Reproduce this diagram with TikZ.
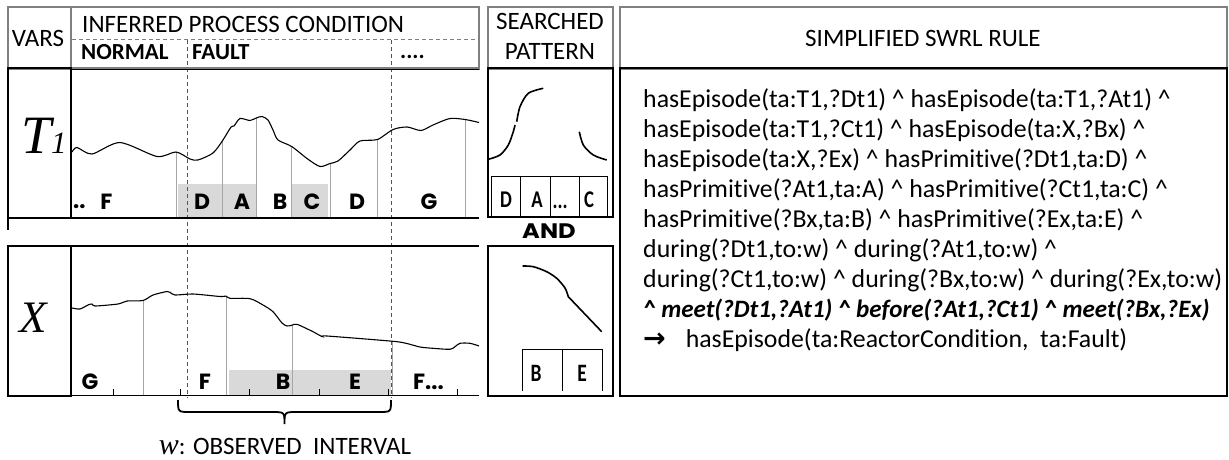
\documentclass[tikz,border=0pt]{standalone}
\usepackage{fontspec}
\usepackage{graphicx}
\setmainfont{Carlito}[Ligatures=NoCommon]
\newfontfamily\geo{Poppins}
\newfontfamily\tnr{Liberation Serif}
\newfontfamily\symf{DejaVu Sans}
\definecolor{hdrgray}{HTML}{808080}
\definecolor{shadegray}{HTML}{D9D9D9}
\definecolor{seggray}{HTML}{A6A6A6}
\definecolor{dashgray}{HTML}{555555}
\newcommand{\pxsize}[1]{\fontsize{#1}{#1}\selectfont}
\newcommand{\caret}{\textasciicircum}
\newcommand{\narrow}[1]{\scalebox{0.78}[1]{#1}}
\tikzset{
  hdrbox/.style={draw=hdrgray, line width=2.4pt},
  bodybox/.style={draw=black, line width=2pt},
  axisline/.style={draw=black, line width=1.3pt},
  signal/.style={draw=black, line width=1.1pt},
  patcurve/.style={draw=black, line width=1.6pt},
  segline/.style={draw=seggray, line width=0.9pt},
  faultline/.style={draw=dashgray, line width=0.9pt, dash pattern=on 4pt off 3pt},
  cell/.style={draw=black, line width=0.9pt},
  hdrtext/.style={inner sep=0pt, font=\pxsize{25}},
  condtext/.style={inner sep=0pt, font=\pxsize{23}\bfseries},
  epi/.style={inner sep=0pt, font=\geo\bfseries\pxsize{22}},
  prim/.style={inner sep=0pt, font=\bfseries\pxsize{24}},
  ruleline/.style={anchor=base west, inner sep=0pt, font=\pxsize{25.8}},
}
\begin{document}
\begin{tikzpicture}[x=1pt,y=-1pt]
\useasboundingbox (0,0) rectangle (1229,460);

% shaded episodes of the searched pattern
\fill[shadegray] (178,183.5) rectangle (256.5,218);
\fill[shadegray] (292,183.5) rectangle (328,218);
\fill[shadegray] (229,370) rectangle (391,395);

% episode boundaries of T1
\foreach \x/\y in {176/152, 222.7/140.4, 256.7/117.8, 291.7/146.5, 330/163.5, 377.5/139.5, 465.7/119.6}
  \draw[segline] (\x,\y) -- (\x,218);
% episode boundaries of X
\foreach \x/\y in {143/300.5, 226/296.1, 292/325.2, 392/341.2}
  \draw[segline] (\x,\y) -- (\x,395);
% time ticks on the X axis
\foreach \x in {113,180,249,319,388,457}
  \draw[black, line width=0.9pt] (\x,389) -- (\x,395);

% fault window
\draw[faultline] (187,40) -- (187,398);
\draw[faultline] (391,40) -- (391,398);

% header boxes
\draw[hdrbox] (8,7) rectangle (479,68.5);
\draw[hdrbox] (71,7) -- (71,68.5);
\draw[faultline, draw=hdrgray] (72,39) -- (479,39);
\draw[hdrbox] (488,7) rectangle (613,68.5);
\draw[hdrbox] (620,7) rectangle (1227,68.5);

% variable rows
\draw[axisline] (71,69.5) -- (479,69.5);
\draw[bodybox] (8,68.5) rectangle (71,218);
\draw[axisline] (71,218) -- (479,218);
\draw[axisline] (8,218) -- (8,230);
\draw[axisline] (8,246) -- (479,246);
\draw[bodybox] (8,246) rectangle (71,396);
\draw[axisline] (71,395.5) -- (479,395.5);

% pattern and rule frames
\draw[bodybox] (488,68.5) rectangle (613,217);
\draw[bodybox] (488,246) rectangle (613,396);
\draw[bodybox] (620,68.5) rectangle (1227,396);

% T1 signal
\draw[signal] plot[smooth, tension=0.45] coordinates {
  (72,152) (77,147.5) (92,154) (120,142.5) (157,156.5) (176,152) (190,159)
  (198,160) (213,153) (222.7,140.4) (231,127) (234,126) (240,118.5) (250,120.5)
  (256.7,117.8) (262,116.5) (268,120) (273,130) (278,140) (291.7,146.5)
  (307,158.5) (320,166.5) (330,163.5) (338,161) (350,150) (360,141)
  (377.5,139.5) (393,129.5) (407,127) (421,130.5) (433,125) (450,118.5)
  (465.7,119.6) (479,122.5)};
% X signal
\draw[signal] plot[smooth, tension=0.45] coordinates {
  (72,308) (80,309) (88,305) (92,304) (95,306) (118,304) (127,301) (143,300.5)
  (153,295) (167,291.5) (170,292.3) (175,295) (193,294) (220,296.5) (226,296.1)
  (230,298.3) (250,298.7) (263,305) (273,311.7) (282,323) (287,326) (292,325.2)
  (297,324.3) (313,331.7) (322,336.5) (327,336) (392,341.2) (406,343.3)
  (420,347) (433,348.3) (450,349.3) (455,346.7) (460,343.3) (470,343.3) (479,346)};

% searched pattern for T1
\draw[patcurve] plot[smooth] coordinates {(488.3,159.3) (500,155) (508.3,145) (513.3,131.7) (515,125)};
\draw[patcurve] plot[smooth] coordinates {(516.7,121.7) (520,106.7) (528.3,93.3) (543.3,88.3)};
\draw[patcurve] plot[smooth] coordinates {(579.3,131.7) (583.3,145) (593.3,155) (606.7,160)};
\draw[cell] (491.7,217) -- (491.7,176.7) -- (607.3,176.7) -- (607.3,217);
\foreach \x in {520.7,550,579} \draw[cell] (\x,176.7) -- (\x,217);
% searched pattern for X
\draw[patcurve] plot[smooth] coordinates {(522.7,266) (533.3,266.7) (546.7,271.7) (556.7,278.3) (565,288) (568.3,296.7)} -- (601.7,331.7);
\draw[cell] (522,391) -- (522,349.3) -- (602.3,349.3) -- (602.3,391);
\draw[cell] (562.3,349.3) -- (562.3,391);

% observation window brace
\draw[black, line width=1.8pt] (178,400) .. controls (178,412) .. (190,412) -- (272,412)
  .. controls (284.5,412) .. (284.5,424) .. controls (284.5,412) .. (297,412) -- (379,412)
  .. controls (391,412) .. (391,400);
\node[inner sep=0pt, font=\pxsize{25}] (wlabel) at (285,447) {{\tnr\itshape\pxsize{30}w}: OBSERVED\ \ INTERVAL};

% header texts
\node[hdrtext] (vars) at (38,38) {VARS};
\node[hdrtext, anchor=west] (inferred) at (82,24.5) {INFERRED PROCESS CONDITION};
\node[condtext, anchor=west] (normal) at (81,52) {NORMAL};
\node[condtext, anchor=west] (fault) at (192,52) {FAULT};
\node[condtext, anchor=base west] (more) at (400,59) {....};
\node[hdrtext] (searched) at (550,21) {SEARCHED};
\node[hdrtext] (pattern) at (550,51.5) {PATTERN};
\node[hdrtext] (swrl) at (923,38) {SIMPLIFIED SWRL RULE};

% variable names
\node[inner sep=0pt, anchor=base west, font=\tnr\itshape] (tvar) at (21,153) {\pxsize{54}T\pxsize{31}1};
\node[inner sep=0pt, anchor=base west, font=\tnr\itshape] (xvar) at (19,332) {\pxsize{45}X};

% episode letters of T1
\node[epi, anchor=base west] (t1dots) at (73,208) {..};
\node[epi] (t1f) at (106.5,202) {F};
\node[epi] (t1d) at (202,202) {D};
\node[epi] (t1a) at (242,202) {A};
\node[epi] (t1b) at (280,202) {B};
\node[epi] (t1c) at (312,202) {C};
\node[epi] (t1d2) at (357,202) {D};
\node[epi] (t1g) at (429,202) {G};
% episode letters of X
\node[epi] (xg) at (90,382) {G};
\node[epi] (xf) at (205,382) {F};
\node[epi] (xb) at (283,382) {B};
\node[epi] (xe) at (355,382) {E};
\node[epi, anchor=base west] (xf2) at (413,389) {F...};

% pattern letters
\node[prim] (pd) at (506,200) {\narrow{D}};
\node[prim] (pa) at (537,200) {\narrow{A}};
\node[prim, anchor=base] (pdots) at (560,208) {\narrow{...}};
\node[prim] (pc) at (589,200) {\narrow{C}};
\node[prim, font=\bfseries\pxsize{25}] (pb) at (536,373) {\narrow{B}};
\node[prim, font=\bfseries\pxsize{25}] (pe) at (582,373) {\narrow{E}};
\node[inner sep=0pt, font=\geo\bfseries\pxsize{21}] (and) at (549,231) {\scalebox{1.15}[1]{AND}};

% rule body
\node[ruleline] (r1) at (643,107) {hasEpisode(ta:T1,?Dt1) \caret{} hasEpisode(ta:T1,?At1) \caret};
\node[ruleline] (r2) at (643,137) {hasEpisode(ta:T1,?Ct1) \caret{} hasEpisode(ta:X,?Bx) \caret};
\node[ruleline] (r3) at (643,167) {hasEpisode(ta:X,?Ex) \caret{} hasPrimitive(?Dt1,ta:D) \caret};
\node[ruleline] (r4) at (643,197) {hasPrimitive(?At1,ta:A) \caret{} hasPrimitive(?Ct1,ta:C) \caret};
\node[ruleline] (r5) at (643,227) {hasPrimitive(?Bx,ta:B) \caret{} hasPrimitive(?Ex,ta:E) \caret};
\node[ruleline] (r6) at (643,257) {during(?Dt1,to:w) \caret{} during(?At1,to:w) \caret};
\node[ruleline] (r7) at (643,287) {during(?Ct1,to:w) \caret{} during(?Bx,to:w) \caret{} during(?Ex,to:w)};
\node[ruleline, font=\pxsize{25}\bfseries\itshape] (r8) at (643,317) {\caret{} meet(?Dt1,?At1) \caret{} before(?At1,?Ct1) \caret{} meet(?Bx,?Ex)};
\node[ruleline] (r9) at (643,347) {{\symf\bfseries\pxsize{27}→}\hspace{20pt}hasEpisode(ta:ReactorCondition,\ \ ta:Fault)};
\end{tikzpicture}
\end{document}
